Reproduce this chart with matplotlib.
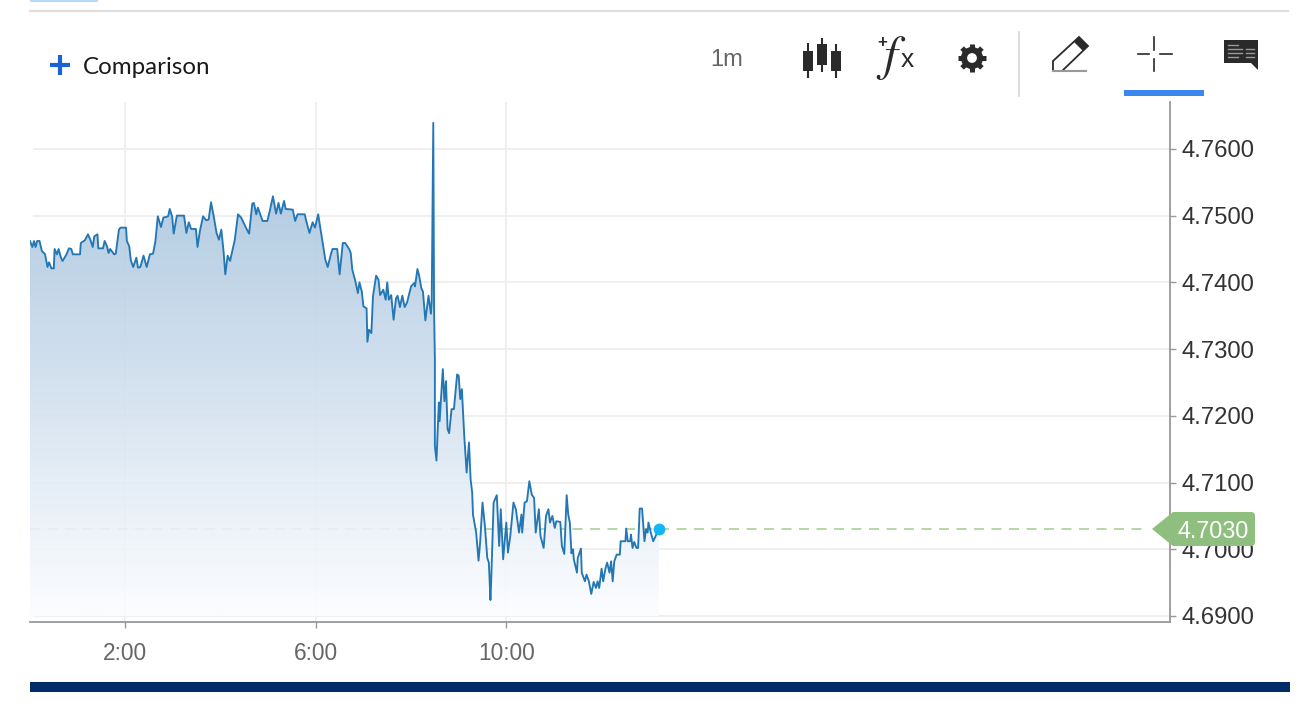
import numpy as np
import matplotlib
matplotlib.use("Agg")
import matplotlib.pyplot as plt
from matplotlib.patches import Polygon, Rectangle, Circle, FancyBboxPatch

# minutes after midnight
minutes = [0,3,5,7,9,12,15,19,22,24,27,30,31,34,36,39,41,46,49,52,54,63,64,69,73,76,79,81,85,86,92,94,97,99,101,106,108,112,114,121,
    122,125,127,130,134,136,139,143,147,151,155,158,161,165,168,174,176,179,181,185,194,197,200,203,209,211,214,218,222,225,228,231,235,238,241,244,246,249,252,258,
    262,266,272,276,280,282,285,287,290,293,299,302,306,310,313,316,320,322,331,334,337,346,348,352,356,359,363,366,369,372,375,379,381,387,390,394,397,402,
    404,406,410,413,415,418,420,424,425,427,430,432,436,439,441,445,448,450,452,455,458,461,463,466,469,472,475,480,484,485,488,490,493,495,498,502,505,506,508,509,510,
    510,512,515,516,520,522,524,526,528,531,534,538,540,542,544,547,550,553,555,557,558,562,565,567,570,573,576,578,580,581,584,588,590,591,593,596,600,602,605,609,
    612,616,619,620,623,626,629,632,635,637,641,643,647,650,653,655,658,661,663,668,670,673,676,678,680,682,684,685,689,690,694,695,699,701,704,707,710,713,715,717,
    720,722,725,727,730,732,734,736,739,743,744,750,751,753,756,757,759,761,764,766,768,771,774,776,778,779,782,785,787,792]
prices = [4.7462,4.7453,4.7462,4.7453,4.7462,4.7462,4.7447,4.7442,4.7423,4.7430,4.7421,4.7421,4.7450,4.7442,4.7450,4.7437,4.7432,4.7442,4.7451,4.7450,4.7442,4.7442,4.7459,4.7463,4.7472,4.7464,4.7453,4.7469,4.7472,4.7451,4.7451,4.7462,4.7454,4.7444,4.7450,4.7442,4.7443,4.7479,4.7482,4.7482,
    4.7462,4.7454,4.7433,4.7423,4.7437,4.7422,4.7423,4.7440,4.7423,4.7442,4.7443,4.7462,4.7499,4.7483,4.7497,4.7499,4.7510,4.7499,4.7473,4.7500,4.7500,4.7474,4.7490,4.7480,4.7480,4.7453,4.7477,4.7499,4.7493,4.7494,4.7520,4.7502,4.7474,4.7464,4.7479,4.7444,4.7412,4.7440,4.7432,4.7464,
    4.7502,4.7497,4.7482,4.7473,4.7518,4.7519,4.7502,4.7512,4.7502,4.7492,4.7492,4.7507,4.7529,4.7503,4.7519,4.7503,4.7522,4.7510,4.7509,4.7492,4.7502,4.7502,4.7492,4.7474,4.7490,4.7482,4.7502,4.7479,4.7457,4.7434,4.7423,4.7442,4.7450,4.7450,4.7412,4.7459,4.7459,4.7450,
    4.7444,4.7419,4.7401,4.7384,4.7400,4.7386,4.7364,4.7361,4.7311,4.7329,4.7324,4.7379,4.7410,4.7404,4.7381,4.7389,4.7374,4.7400,4.7374,4.7381,4.7344,4.7376,4.7380,4.7363,4.7380,4.7363,4.7370,4.7394,4.7399,4.7394,4.7420,4.7411,4.7391,4.7386,4.7343,4.7380,4.7353,4.7371,4.7639,4.7359,4.7285,
    4.7155,4.7133,4.7220,4.7192,4.7270,4.7222,4.7252,4.7180,4.7174,4.7210,4.7210,4.7262,4.7260,4.7225,4.7240,4.7170,4.7115,4.7160,4.7105,4.7085,4.7052,4.7025,4.6983,4.7010,4.7070,4.7035,4.6987,4.6980,4.6924,4.6955,4.7070,4.7081,4.7030,4.7005,4.7060,4.6985,4.7040,4.6995,4.7020,4.7070,
    4.7060,4.7025,4.7052,4.7025,4.7070,4.7072,4.7102,4.7082,4.7077,4.7025,4.7060,4.7020,4.7002,4.7050,4.7060,4.7040,4.7050,4.7032,4.7042,4.7041,4.7005,4.6993,4.7081,4.7052,4.7040,4.6994,4.7000,4.6985,4.6965,4.6987,4.7001,4.6965,4.6952,4.6962,4.6952,4.6933,4.6951,4.6942,4.6952,4.6942,
    4.6971,4.6952,4.6972,4.6980,4.6965,4.6982,4.6952,4.6982,4.6992,4.6992,4.7012,4.7012,4.7031,4.7012,4.7012,4.7022,4.7002,4.7011,4.7002,4.7002,4.7061,4.7061,4.7012,4.7030,4.7025,4.7040,4.7025,4.7012,4.7017,4.7030]
y_ticks = [4.76, 4.75, 4.74, 4.73, 4.72, 4.71, 4.70, 4.69]
x_ticks = [120, 360, 600]
x_labels = ["2:00", "6:00", "10:00"]
last_price = 4.7030

W, H = 1314, 706
XMAX = 1436
plt.rcParams["font.family"] = ["Liberation Sans", "DejaVu Sans"]
fig = plt.figure(figsize=(W / 100, H / 100), dpi=100)
ax = fig.add_axes([30 / W, (H - 622) / H, 1140 / W, 520 / H])
ax.set_xlim(0, XMAX)
ax.set_ylim(4.6891, 4.76703)

ax.hlines(y_ticks, 4, XMAX, color="#eeeeee", lw=1.3, zorder=1)
for t in x_ticks:
    ax.axvline(t, color="#eeeeee", lw=1.3, zorder=1)

# last price line, sits under the fill
ax.plot([0, minutes[-1]], [last_price, last_price], color="#a5d395", lw=1.2, dashes=(6, 4.5), zorder=2)
ax.plot([minutes[-1], 1405], [last_price, last_price], color="#a5d395", lw=1.2, dashes=(6, 4.5), zorder=2)

# gradient under the curve
top_c = np.array([172, 199, 224]) / 255
bot_c = np.array([252, 253, 255]) / 255
t = np.linspace(0, 1, 256)[:, None]
rgba = np.zeros((256, 1, 4))
rgba[:, :, :3] = (top_c * (1 - t) + bot_c * t)[:, None, :]
rgba[:, :, 3] = 0.9
im = ax.imshow(rgba, extent=[0, XMAX, 4.69, 4.7529], aspect="auto", origin="upper", zorder=3)
ax.set_xlim(0, XMAX)
ax.set_ylim(4.6891, 4.76703)
verts = [(minutes[0], 4.69)] + list(zip(minutes, prices)) + [(minutes[-1], 4.69)]
clip = Polygon(verts, closed=True, transform=ax.transData, fc="none", ec="none")
ax.add_patch(clip)
im.set_clip_path(clip)

ax.plot(minutes, prices, color="#2377b4", lw=1.35, solid_joinstyle="round", zorder=4)
ax.plot(minutes[-1], last_price, "o", color="#12b5f5", ms=8.5, mew=0, zorder=5)

for s in ["top", "left"]:
    ax.spines[s].set_visible(False)
for s in ["right", "bottom"]:
    ax.spines[s].set_color("#999999")
    ax.spines[s].set_linewidth(1.3)
ax.yaxis.tick_right()
ax.set_yticks(y_ticks)
ax.set_yticklabels(["%.4f" % v for v in y_ticks])
ax.set_xticks(x_ticks)
ax.set_xticklabels(x_labels)
ax.tick_params(axis="y", length=4, width=1, color="#999999", labelsize=17.2, labelcolor="#333333", pad=4.5)
ax.tick_params(axis="x", length=4.5, width=1, color="#999999", labelsize=16.4, labelcolor="#666666", pad=10)

# page chrome and toolbar, in pixel coordinates
ui = fig.add_axes([0, 0, 1, 1], zorder=10)
ui.set_xlim(0, W)
ui.set_ylim(H, 0)
ui.axis("off")
ui.patch.set_alpha(0)

ui.add_patch(Rectangle((30, 0), 68, 2, fc="#b5daf7", ec="none"))
ui.plot([30, 1288], [11, 11], color="#dddddd", lw=1.5)
ui.add_patch(Rectangle((30, 682), 1260, 10, fc="#002d68", ec="none"))

ui.plot([50, 70], [65, 65], color="#1a62d6", lw=3, solid_capstyle="butt")
ui.plot([60, 60], [55, 75], color="#1a62d6", lw=3, solid_capstyle="butt")
ui.text(83, 68, "Comparison", fontsize=17.4, family=["Lato", "DejaVu Sans"], color="#1a1a1a", va="center")
ui.text(727, 60, "1m", fontsize=17, color="#666666", ha="center", va="center")

# candles icon
for cx, w0, w1, b0, b1 in [(808, 43, 78, 51, 71), (822, 38, 72, 44, 65), (836, 44, 78, 51, 71)]:
    ui.plot([cx, cx], [w0, w1], color="#2a2a2a", lw=1.5, solid_capstyle="butt")
    ui.add_patch(Rectangle((cx - 5, b0), 10, b1 - b0, fc="#2a2a2a", ec="none"))

# fx icon
ui.text(882, 43, "+", fontsize=12, color="#2a2a2a", ha="center", va="center", weight="bold")
ui.text(890, 58, "f", fontsize=36, family="STIXGeneral", style="italic", color="#2a2a2a", ha="center", va="center")
ui.text(907, 60, "x", fontsize=19, color="#2a2a2a", ha="center", va="center")

# gear icon
for a in np.arange(8) * np.pi / 4:
    ui.plot([972 + 9 * np.cos(a), 972 + 14 * np.cos(a)], [58 + 9 * np.sin(a), 58 + 14 * np.sin(a)],
            color="#2a2a2a", lw=3.6, solid_capstyle="butt")
ui.add_patch(Circle((972, 58), 8, fc="none", ec="#2a2a2a", lw=4.4))

ui.plot([1019, 1019], [32, 96], color="#d8d8d8", lw=1.3)

# pencil icon
ui.add_patch(Polygon([(1053, 71), (1053, 61), (1079, 37), (1088, 46), (1062, 71)], closed=True, fc="none", ec="#2a2a2a", lw=1.3))
ui.add_patch(Polygon([(1079, 37), (1088, 46), (1083, 51), (1074, 42)], closed=True, fc="#2a2a2a", ec="none"))
ui.plot([1053, 1086], [71, 71], color="#999999", lw=1.5)

# crosshair icon
ui.plot([1154, 1154], [37, 50], color="#2a2a2a", lw=1.2)
ui.plot([1154, 1154], [59, 71], color="#2a2a2a", lw=1.2)
ui.plot([1138, 1149], [54, 54], color="#2a2a2a", lw=1.2)
ui.plot([1160, 1172], [54, 54], color="#2a2a2a", lw=1.2)
ui.add_patch(Rectangle((1124, 90), 80, 6, fc="#3b87f0", ec="none"))

# comment icon
ui.add_patch(Polygon([(1224, 40), (1258, 40), (1258, 70), (1251, 63), (1224, 63)], closed=True, fc="#2a2a2a", ec="none"))
for yy, x1 in [(45, 1238), (49, 1242), (53, 1242), (57, 1238)]:
    ui.plot([1228, x1], [yy, yy], color="#999999", lw=1)
for yy in [49, 53, 57]:
    ui.plot([1246, 1254], [yy, yy], color="#999999", lw=1)

# price tag
ui.add_patch(FancyBboxPatch((1176, 512), 79, 34, boxstyle="round,pad=0,rounding_size=4", fc="#8fbf7f", ec="none"))
ui.add_patch(Polygon([(1152, 529), (1173, 512), (1180, 512), (1180, 546), (1173, 546)], closed=True, fc="#8fbf7f", ec="none"))
ui.text(1213, 531, "%.4f" % last_price, fontsize=16.8, color="white", ha="center", va="center")

fig.savefig("out.png", dpi=100)
